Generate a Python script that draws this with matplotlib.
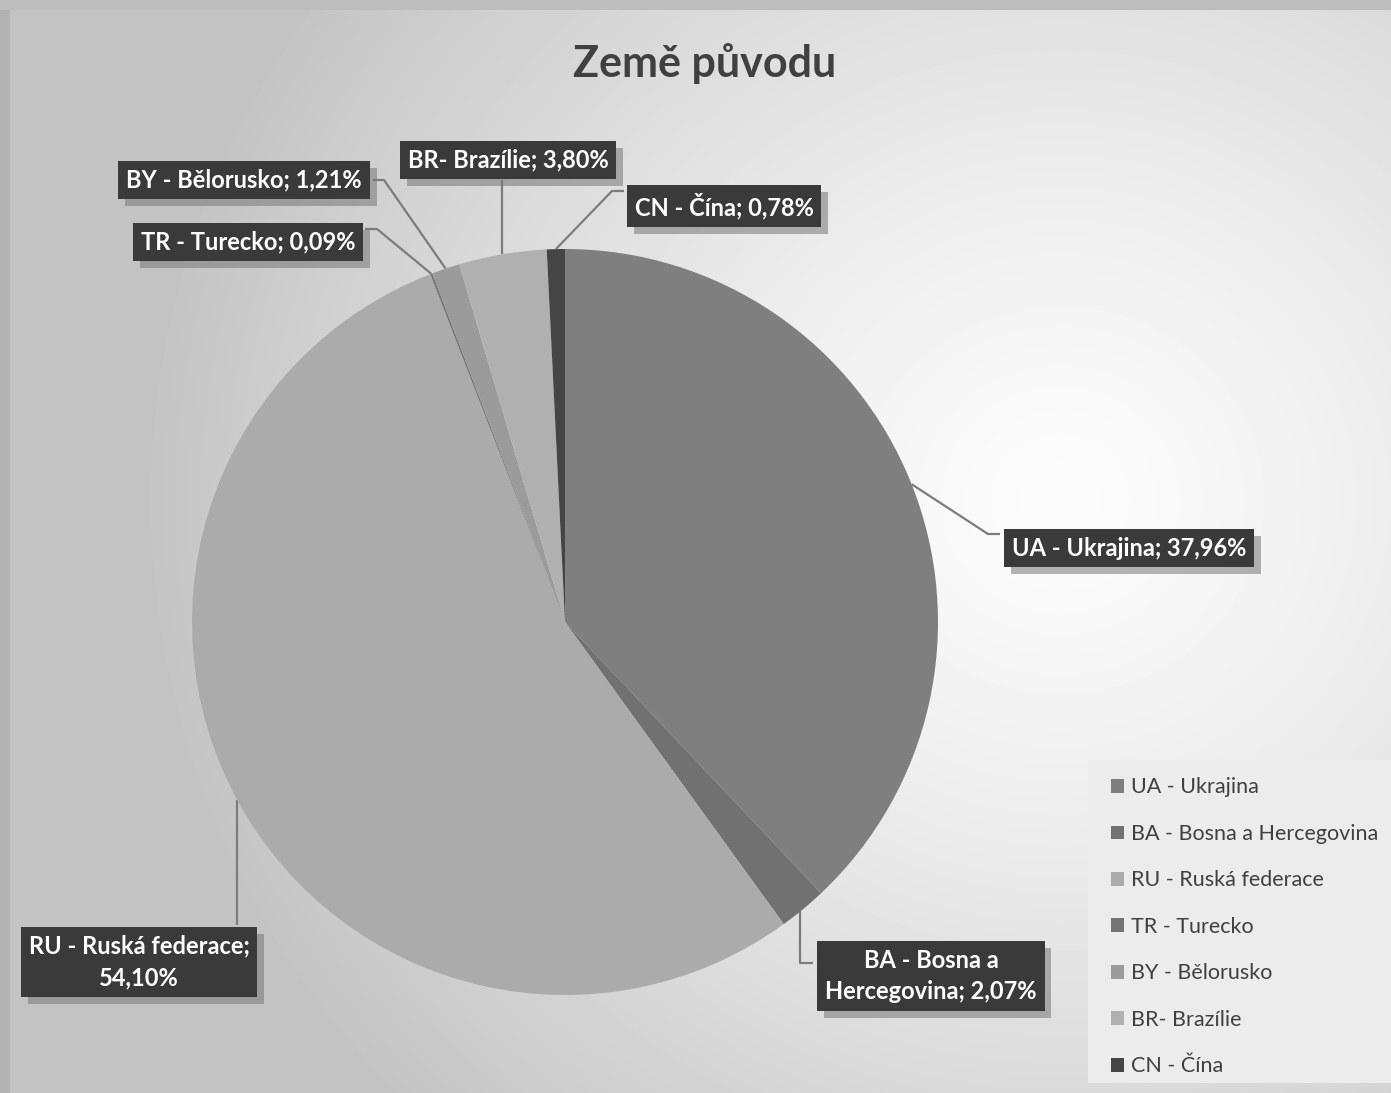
import numpy as np
import matplotlib
matplotlib.use("Agg")
import matplotlib.pyplot as plt
from matplotlib.patches import Rectangle, Patch
import matplotlib.patheffects as pe

plt.rcParams['font.family'] = ['Lato', 'DejaVu Sans']
plt.rcParams['hatch.color'] = '#4a4a4a'
plt.rcParams['hatch.linewidth'] = 1.0

# ---- data ----
title = "Země původu"
categories = ["UA - Ukrajina", "BA - Bosna a Hercegovina", "RU - Ruská federace",
              "TR - Turecko", "BY - Bělorusko", "BR- Brazílie", "CN - Čína"]
values = [37.96, 2.07, 54.10, 0.09, 1.21, 3.80, 0.78]
value_labels = ["37,96%", "2,07%", "54,10%", "0,09%", "1,21%", "3,80%", "0,78%"]
colors = ["#7f7f7f", "#717171", "#ababab", "#747474", "#9b9b9b", "#b0b0b0", "#454545"]

W, H = 1391, 1093
fig = plt.figure(figsize=(W / 100, H / 100), dpi=100)
ax = fig.add_axes([0, 0, 1, 1])
ax.set_xlim(0, W)
ax.set_ylim(0, H)
ax.set_aspect('equal')
ax.axis('off')

def Y(py):
    return H - py

# background gradient
yy, xx = np.mgrid[0:H, 0:W]
d = np.sqrt(((xx - 1060) / 1.0) ** 2 + ((yy - 500) / 0.95) ** 2)
v = 252 - 55 * (d / 900.0) ** 1.3
v = np.clip(v, 196, 252) / 255.0
ax.imshow(v, cmap='gray', vmin=0, vmax=1, extent=[0, W, 0, H], origin='upper', zorder=0)
# outer textured border
ax.add_patch(Rectangle((0, 0), 10, H, fc='#b3b3b3', ec='none', zorder=1))
ax.add_patch(Rectangle((0, Y(10)), W, 10, fc='#bdbdbd', ec='none', zorder=1))
# legend panel
ax.add_patch(Rectangle((1088, Y(1083)), W - 1088, 1083 - 760, fc='#ececec', ec='none', zorder=1))

# pie
cx, cy, r = 565, Y(622), 373
wedges, _ = ax.pie(values, colors=colors, startangle=90, counterclock=False,
                   radius=r, center=(cx, cy), wedgeprops=dict(linewidth=0))
for w in wedges:
    w.set_zorder(3)
ax.set_xlim(0, W)
ax.set_ylim(0, H)

# leader lines: elbow points (pixel coords) from wedge midpoint to box
elbows = [
    [(988, 534), (1000, 534)],
    [(800, 963), (813, 963)],
    [(None, 925)],
    [(377, 229), (365, 229)],
    [(384, 180), (373, 180)],
    [(None, 180)],
    [(612, 191), (624, 191)],
]
box_centers = [(1129, 548), (931, 976), (139, 962), (248, 242), (244, 180), (508, 160), (724, 206)]
label_texts = [
    "UA - Ukrajina; " + value_labels[0],
    "BA - Bosna a\nHercegovina; " + value_labels[1],
    "RU - Ruská federace;\n" + value_labels[2],
    "TR - Turecko; " + value_labels[3],
    "BY - Bělorusko; " + value_labels[4],
    "BR- Brazílie; " + value_labels[5],
    "CN - Čína; " + value_labels[6],
]

for i, w in enumerate(wedges):
    ang = np.deg2rad((w.theta1 + w.theta2) / 2)
    ex, ey = cx + r * np.cos(ang), cy + r * np.sin(ang)
    xs, ys = [ex], [ey]
    for (px, py) in elbows[i]:
        xs.append(ex if px is None else px)
        ys.append(Y(py))
    if i == 1:
        xs[0], ys[0] = 800, ey
        xs[1] = 800
    ax.plot(xs, ys, color='#7c7c7c', lw=1.6, zorder=2, solid_capstyle='butt')

    bx, by = box_centers[i]
    t = ax.text(bx, Y(by), label_texts[i], ha='center', va='center', color='white',
                fontsize=17, fontweight='bold', linespacing=1.45, zorder=5,
                bbox=dict(boxstyle='square,pad=0.33', fc='#3a3a3a', ec='none', hatch='.'))
    t.get_bbox_patch().set_path_effects([
        pe.withSimplePatchShadow(offset=(5, -5), shadow_rgbFace='#777777', alpha=0.55),
        pe.Normal()])

# title
ax.text(705, Y(63), title, ha='center', va='center', fontsize=31, fontweight='bold',
        color='#404040', zorder=5)

# legend
handles = [Patch(fc=c, ec='none') for c in colors]
leg = ax.legend(handles, categories, loc='upper left',
                bbox_to_anchor=(1105 / W, 1 - 771 / H), fontsize=15.5,
                frameon=False, handlelength=0.6, handleheight=0.6,
                handletextpad=0.3, labelspacing=1.23, borderpad=0.3, borderaxespad=0)
leg.set_zorder(5)
for txt in leg.get_texts():
    txt.set_color('#404040')

fig.savefig('out.png', dpi=100)
